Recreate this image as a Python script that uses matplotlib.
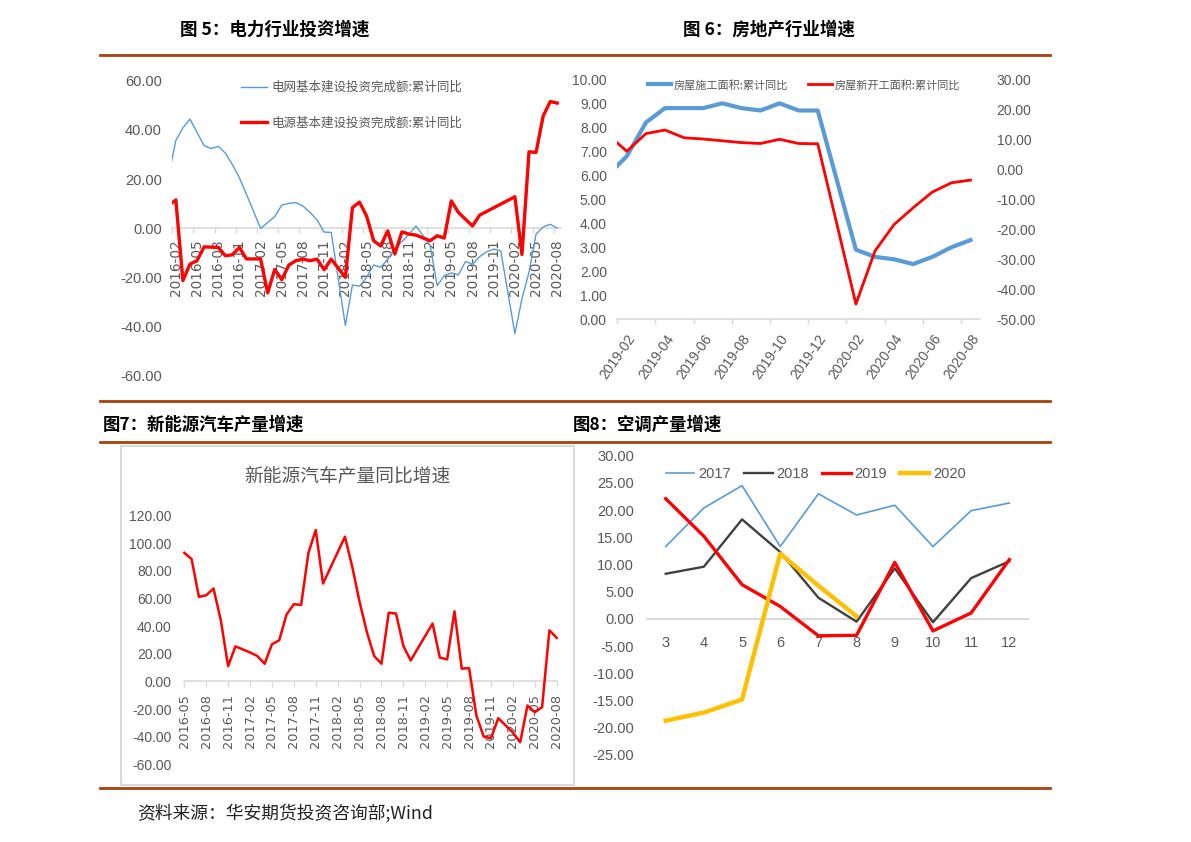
import numpy as np
import pandas as pd
import matplotlib
matplotlib.use("Agg")
import matplotlib.pyplot as plt
from matplotlib import font_manager as fm
from matplotlib.lines import Line2D
from matplotlib.patches import Rectangle

_names = {f.name for f in fm.fontManager.ttflist}
NARROW = "Liberation Sans Narrow" if "Liberation Sans Narrow" in _names else "Liberation Sans"
CJK = "Noto Sans CJK SC"
plt.rcParams["font.family"] = [NARROW, CJK, "DejaVu Sans"]

# ---------------- data ----------------
# Fig 5: power investment, cumulative YoY (%), monthly 2015-12 .. 2020-08 (Jan not published)
elec_months = pd.period_range("2015-12", "2020-08", freq="M").strftime("%Y-%m").tolist()
nan = np.nan
grid_yoy = [7.3,
            nan, 35.7, 40.8, 44.4, 39.0, 33.6, 32.4, 33.3, 30.6, 25.9, 20.5, 13.8,
            nan, -0.1, 2.3, 4.7, 9.4, 10.1, 10.4, 9.0, 6.4, 3.4, -1.6, -1.7,
            nan, -39.6, -23.1, -23.6, -20.0, -15.0, -15.9, -12.6, -8.5, -5.5, -2.5, 0.9,
            nan, -7.0, -23.4, -19.3, -18.2, -19.0, -13.6, -14.6, -11.6, -9.6, -8.5, -9.2,
            nan, -42.9, -28.7, -17.9, -2.4, 0.5, 1.6, 0.0]
power_yoy = [7.1,
             nan, 11.5, -21.3, -14.6, -13.2, -7.6, -7.7, -7.8, -11.2, -10.8, -7.8, -12.5,
             nan, -12.5, -26.3, -16.8, -20.9, -15.0, -13.2, -12.6, -13.2, -12.6, -16.9, -12.6,
             nan, -20.0, 8.4, 10.6, 5.0, -5.1, -7.2, -1.1, -10.5, -1.5, -2.4, -2.8,
             nan, -5.1, -3.1, -4.0, 11.1, 6.4, nan, 0.9, 5.3, nan, nan, nan,
             nan, 12.8, -10.7, 31.1, 30.8, 45.6, 51.5, 50.9]
grid_label = "电网基本建设投资完成额:累计同比"
power_label = "电源基本建设投资完成额:累计同比"

# Fig 6: real estate, cumulative YoY (%), 2018-12 .. 2020-08
re_months = pd.period_range("2018-12", "2020-08", freq="M").strftime("%Y-%m").tolist()
floor_under_constr = [5.2, nan, 6.8, 8.2, 8.8, 8.8, 8.8, 9.0, 8.8, 8.7, 9.0, 8.7, 8.7,
                      nan, 2.9, 2.6, 2.5, 2.3, 2.6, 3.0, 3.3]
new_starts = [17.2, nan, 6.0, 11.9, 13.1, 10.5, 10.1, 9.5, 8.9, 8.6, 10.0, 8.6, 8.5,
              nan, -44.9, -27.2, -18.4, -12.8, -7.6, -4.5, -3.6]
floor_label = "房屋施工面积:累计同比"
starts_label = "房屋新开工面积:累计同比"

# Fig 7: NEV production YoY (%), 2016-05 .. 2020-08
nev_months = pd.period_range("2016-05", "2020-08", freq="M").strftime("%Y-%m").tolist()
nev_yoy = [93.1, 88.6, 61.2, 62.4, 67.3, 44.3, 11.1, 25.4,
           nan, 21.0, 18.4, 12.8, 26.9, 29.8, 48.4, 55.9, 55.4, 93.1, 109.6, 70.9,
           nan, nan, 104.8, 83.0, 57.6, 35.8, 18.4, 12.8, 49.8, 49.1, 25.6, 15.2,
           nan, nan, 41.9, 17.2, 16.0, 50.8, 9.2, 9.7, -24.7, -39.9, -41.1, -26.6,
           nan, -37.0, -44.0, -17.4, -22.3, -18.6, 37.0, 31.5]
nev_title = "新能源汽车产量同比增速"

# Fig 8: air-conditioner production YoY (%), months 3..12
ac_months = [3, 4, 5, 6, 7, 8, 9, 10, 11, 12]
ac_2017 = [13.3, 20.4, 24.5, 13.3, 23.0, 19.1, 20.9, 13.3, 19.9, 21.3]
ac_2018 = [8.3, 9.6, 18.3, 12.3, 3.9, -0.5, 9.3, -0.6, 7.5, 10.6]
ac_2019 = [22.1, 15.2, 6.3, 2.3, -3.1, -3.0, 10.4, -2.2, 1.1, 10.9]
ac_2020 = [-18.7, -17.2, -14.8, 12.0, 6.1, 0.5]
ac_years = ["2017", "2018", "2019", "2020"]

titles = ["图 5：电力行业投资增速", "图 6：房地产行业增速", "图7：新能源汽车产量增速", "图8：空调产量增速"]
source = "资料来源：华安期货投资咨询部;Wind"

# ---------------- layout helpers ----------------
W, H = 1191, 842
fig = plt.figure(figsize=(W / 100, H / 100), dpi=100)
fig.patch.set_facecolor("white")


def rect(x0, y0, x1, y1):
    return [x0 / W, 1 - y1 / H, (x1 - x0) / W, (y1 - y0) / H]


def fx(x):
    return x / W


def fy(y):
    return 1 - y / H


GRAY_TXT = "#595959"
AXIS_GRAY = "#D9D9D9"
BLUE = "#5B9BD5"
RED = "#FF0000"
BROWN = "#A5410F"
CJKF = [CJK, "DejaVu Sans"]


def hide_spines(ax, keep_bottom=True):
    for s in ["top", "right", "left"]:
        ax.spines[s].set_visible(False)
    if keep_bottom:
        ax.spines["bottom"].set_color(AXIS_GRAY)
        ax.spines["bottom"].set_linewidth(1.2)
    else:
        ax.spines["bottom"].set_visible(False)
    ax.set_facecolor("none")


def valid(x, y):
    x = np.asarray(x, dtype=float)
    y = np.asarray(y, dtype=float)
    m = ~np.isnan(y)
    return x[m], y[m]


# decorative rule lines
for yy in [55, 401, 442, 788]:
    fig.add_artist(Line2D([fx(100), fx(1050)], [fy(yy), fy(yy)], color=BROWN, lw=2.0))

# titles
fig.text(fx(180), fy(30), titles[0], fontsize=12.6, fontweight="bold", family=CJKF, va="center", ha="left")
fig.text(fx(683), fy(30), titles[1], fontsize=12.6, fontweight="bold", family=CJKF, va="center", ha="left")
fig.text(fx(103), fy(425), titles[2], fontsize=12.5, fontweight="bold", family=CJKF, va="center", ha="left")
fig.text(fx(573), fy(425), titles[3], fontsize=12.5, fontweight="bold", family=CJKF, va="center", ha="left")
fig.text(fx(137), fy(813), source, fontsize=12.8, family=CJKF, va="center", ha="left", color="#222222")

# ---------------- Fig 5 ----------------
ax1 = fig.add_axes(rect(172.3, 80.7, 560.8, 375.7))
x1 = np.arange(len(elec_months))
l_grid, = ax1.plot(*valid(x1, grid_yoy), color=BLUE, lw=1.0, zorder=3, label=grid_label)
l_power, = ax1.plot(*valid(x1, power_yoy), color=RED, lw=2.4, zorder=4, label=power_label)
ax1.set_xlim(1.5, len(elec_months) - 0.5)
ax1.set_ylim(-60, 60)
hide_spines(ax1)
ax1.spines["bottom"].set_position(("data", 0))
ax1.set_yticks(np.arange(-60, 61, 20))
ax1.set_yticklabels([f"{v:.2f}" for v in np.arange(-60, 61, 20)])
ax1.tick_params(axis="y", length=0, pad=7.5, labelsize=10.5, labelcolor=GRAY_TXT)
lab_idx = list(range(2, len(elec_months), 3))
ax1.set_xticks(lab_idx)
ax1.set_xticklabels([elec_months[i] for i in lab_idx], rotation=90, family=["DejaVu Sans"])
ax1.set_xticks([i - 0.5 for i in lab_idx], minor=True)
ax1.tick_params(axis="x", which="major", length=0, pad=8, labelsize=9.8, labelcolor=GRAY_TXT)
ax1.tick_params(axis="x", which="minor", length=3.6, width=1, color=AXIS_GRAY, direction="out")
ax1.legend(handles=[l_grid, l_power], loc="upper left", bbox_to_anchor=(fx(241), fy(81)),
           bbox_transform=fig.transFigure, frameon=False, borderpad=0, borderaxespad=0,
           handlelength=2.1, handletextpad=0.3, labelspacing=1.8,
           prop={"family": CJKF, "size": 9}, labelcolor=GRAY_TXT)

# ---------------- Fig 6 ----------------
ax2 = fig.add_axes(rect(617.3, 79.3, 980, 319.3))
x2 = np.arange(len(re_months)) - 1
l_floor, = ax2.plot(*valid(x2, floor_under_constr), color=BLUE, lw=3.0, zorder=3, label=floor_label)
ax2.set_xlim(0.5, x2[-1] + 0.5)
ax2.set_ylim(0, 10)
hide_spines(ax2)
ax2.set_yticks(np.arange(0, 10.1, 1))
ax2.set_yticklabels([f"{v:.2f}" for v in np.arange(0, 10.1, 1)])
ax2.tick_params(axis="y", length=0, pad=7.5, labelsize=10, labelcolor=GRAY_TXT)
lab2 = list(range(1, x2[-1] + 1, 2))
ax2.set_xticks(lab2)
ax2.set_xticklabels([re_months[j + 1] for j in lab2], rotation=55, ha="right", va="top",
                    rotation_mode="anchor", family=["Liberation Sans"])
ax2.set_xticks([j - 0.5 for j in lab2], minor=True)
ax2.tick_params(axis="x", which="major", length=0, pad=9, labelsize=10, labelcolor=GRAY_TXT)
ax2.tick_params(axis="x", which="minor", length=3.6, width=1, color=AXIS_GRAY, direction="out")
ax2b = ax2.twinx()
l_starts, = ax2b.plot(*valid(x2, new_starts), color=RED, lw=2.0, zorder=3, label=starts_label)
ax2b.set_ylim(-50, 30)
for s in ["top", "right", "left", "bottom"]:
    ax2b.spines[s].set_visible(False)
ax2b.set_yticks(np.arange(-50, 31, 10))
ax2b.set_yticklabels([f"{v:.2f}" for v in np.arange(-50, 31, 10)])
ax2b.tick_params(axis="y", length=0, pad=12, labelsize=10, labelcolor=GRAY_TXT)
ax2b.legend(handles=[l_floor, l_starts], loc="upper left", bbox_to_anchor=(fx(648), fy(79.5)),
            bbox_transform=fig.transFigure, frameon=False, borderpad=0, borderaxespad=0, ncol=2,
            handlelength=2.1, handletextpad=0.25, columnspacing=1.8,
            prop={"family": CJKF, "size": 8.0}, labelcolor=GRAY_TXT)

# ---------------- Fig 7 ----------------
fig.add_artist(Rectangle((fx(121), fy(784.5)), fx(573.5) - fx(121), fy(446) - fy(784.5),
                         fill=False, edgecolor=AXIS_GRAY, lw=1.5))
fig.text(fx(347.5), fy(476), nev_title, fontsize=13.5, family=CJKF, color=GRAY_TXT,
         ha="center", va="center")
ax3 = fig.add_axes(rect(184.3, 515.7, 556.7, 764.3))
x3 = np.arange(len(nev_months))
ax3.plot(*valid(x3, nev_yoy), color=RED, lw=1.8, zorder=3, clip_on=False)
ax3.set_xlim(0, len(nev_months) - 1)
ax3.set_ylim(-60, 120)
hide_spines(ax3)
ax3.spines["bottom"].set_position(("data", 0))
ax3.set_yticks(np.arange(-60, 121, 20))
ax3.set_yticklabels([f"{v:.2f}" for v in np.arange(-60, 121, 20)])
ax3.tick_params(axis="y", length=0, pad=9, labelsize=10, labelcolor=GRAY_TXT)
lab3 = list(range(0, len(nev_months), 3))
ax3.set_xticks(lab3)
ax3.set_xticklabels([nev_months[i] for i in lab3], rotation=90, family=["DejaVu Sans"])
ax3.tick_params(axis="x", length=4, width=1, color=AXIS_GRAY, pad=5, labelsize=9.3,
                labelcolor=GRAY_TXT, direction="out")

# ---------------- Fig 8 ----------------
ax4 = fig.add_axes(rect(646.6, 455.7, 1028.4, 755))
styles = [("#5B9BD5", 1.2), ("#404040", 1.7), ("#FF0000", 2.4), ("#FFC000", 3.2)]
handles = []
for vals, yr, (c, lw) in zip([ac_2017, ac_2018, ac_2019, ac_2020], ac_years, styles):
    h, = ax4.plot(ac_months[:len(vals)], vals, color=c, lw=lw, zorder=3, label=yr)
    handles.append(h)
ax4.set_xlim(ac_months[0] - 0.5, ac_months[-1] + 0.5)
ax4.set_ylim(-25, 30)
hide_spines(ax4)
ax4.spines["bottom"].set_position(("data", 0))
ax4.spines["bottom"].set_linewidth(1.5)
ax4.set_yticks(np.arange(-25, 31, 5))
ax4.set_yticklabels([f"{v:.2f}" for v in np.arange(-25, 31, 5)])
ax4.tick_params(axis="y", length=0, pad=9, labelsize=10.5, labelcolor=GRAY_TXT)
ax4.set_xticks(ac_months)
ax4.set_xticklabels([str(m) for m in ac_months], family=["Liberation Sans"])
ax4.tick_params(axis="x", length=0, pad=12, labelsize=10.5, labelcolor=GRAY_TXT)
ax4.legend(handles=handles, loc="upper left", bbox_to_anchor=(fx(666), fy(467)),
           bbox_transform=fig.transFigure, frameon=False, borderpad=0, borderaxespad=0, ncol=4,
           handlelength=1.95, handletextpad=0.27, columnspacing=0.9,
           prop={"family": [NARROW, "DejaVu Sans"], "size": 10.5}, labelcolor=GRAY_TXT)

fig.savefig("out.png", dpi=100, facecolor="white")
